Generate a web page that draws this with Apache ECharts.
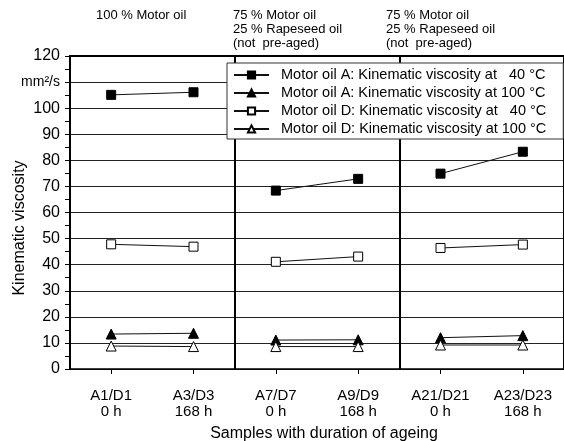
<!DOCTYPE html>
<html><head><meta charset="utf-8">
<script src="https://cdn.jsdelivr.net/npm/echarts@6/dist/echarts.min.js"></script>
<style>html,body{margin:0;padding:0;background:#fff}#c{width:564px;height:441px}</style>
</head><body><div id="c"></div>
<script>
const categories = ['A1/D1\n0 h', 'A3/D3\n168 h', 'A7/D7\n0 h', 'A9/D9\n168 h', 'A21/D21\n0 h', 'A23/D23\n168 h'];
const motorA40 = [105.1, 106.1, 68.4, 72.9, 74.9, 83.3];
const motorA100 = [13.4, 13.7, 11.1, 11.2, 12.0, 12.8];
const motorD40 = [47.8, 46.9, 41.1, 43.1, 46.4, 47.7];
const motorD100 = [8.8, 8.6, 8.6, 8.6, 9.2, 9.2];
const seriesNames = [
  'Motor oil A: Kinematic viscosity at \u200740 °C',
  'Motor oil A: Kinematic viscosity at 100 °C',
  'Motor oil D: Kinematic viscosity at \u200740 °C',
  'Motor oil D: Kinematic viscosity at 100 °C'
];
const groupTitles = ['100 % Motor oil', '75 % Motor oil\n25 % Rapeseed oil\n(not  pre-aged)', '75 % Motor oil\n25 % Rapeseed oil\n(not  pre-aged)'];
const yAxisTitle = 'Kinematic viscosity';
const xAxisTitle = 'Samples with duration of ageing';
const unitLabel = 'mm²/s';

const FONT = 'Liberation Sans, Arial, sans-serif';
const styles = [
  {symbol: 'rect', size: 9, fill: '#000'},
  {symbol: 'triangle', size: 10, fill: '#000'},
  {symbol: 'rect', size: 9, fill: '#fff'},
  {symbol: 'triangle', size: 10, fill: '#fff'}
];
const allData = [motorA40, motorA100, motorD40, motorD100];
const series = [];
allData.forEach((arr, si) => {
  for (let g = 0; g < 3; g++) {
    const d = arr.map((v, i) => (i === 2 * g || i === 2 * g + 1) ? v : '-');
    series.push({
      type: 'line', name: seriesNames[si], xAxisIndex: 0, yAxisIndex: 0,
      data: d, symbol: styles[si].symbol, symbolSize: styles[si].size,
      showAllSymbol: true, animation: false,
      lineStyle: {color: '#111', width: 1},
      itemStyle: {color: styles[si].fill, borderColor: '#000', borderWidth: 1, opacity: 1},
      z: 3
    });
  }
});

const chart = echarts.init(document.getElementById('c'), null, {renderer: 'canvas'});
chart.setOption({
  animation: false,
  backgroundColor: '#fff',
  textStyle: {fontFamily: FONT, color: '#000'},
  grid: {left: 70, top: 56, right: 0, bottom: 72, containLabel: false},
  legend: {
    orient: 'vertical', left: 227, top: 63,
    data: seriesNames,
    backgroundColor: '#fff', borderColor: '#333', borderWidth: 1,
    padding: [3, 17, 1, 6], itemGap: 0, itemWidth: 35, itemHeight: 9,
    textStyle: {fontFamily: FONT, fontSize: 14.5, lineHeight: 18, color: '#000', padding: [0, 0, 0, 7]},
    selectedMode: false, z: 10
  },
  xAxis: [{
    type: 'category', data: categories, boundaryGap: true,
    axisLine: {show: true, lineStyle: {color: '#000', width: 1.5}},
    axisTick: {show: true, alignWithLabel: true, length: 5, lineStyle: {color: '#000'}},
    axisLabel: {fontFamily: FONT, fontSize: 15, color: '#000', margin: 19, lineHeight: 16, interval: 0},
    splitLine: {show: false}
  }, {
    type: 'value', min: 0, max: 6, interval: 2, position: 'top',
    axisLine: {show: true, onZero: false, lineStyle: {color: '#000', width: 2}},
    axisTick: {show: false}, axisLabel: {show: false},
    splitLine: {show: true, lineStyle: {color: '#000', width: 2}}
  }],
  yAxis: {
    type: 'value', min: 0, max: 120, interval: 10,
    axisLine: {show: true, lineStyle: {color: '#000', width: 2}},
    axisTick: {show: true, length: 5, lineStyle: {color: '#000'}},
    minorTick: {show: true, splitNumber: 2, length: 5, lineStyle: {color: '#000'}},
    axisLabel: {
      fontFamily: FONT, fontSize: 16, color: '#000', margin: 10,
      formatter: v => v === 110 ? '{u|' + unitLabel + '}' : String(v),
      rich: {u: {fontFamily: FONT, fontSize: 14, color: '#000'}}
    },
    splitLine: {show: true, lineStyle: {color: '#222', width: 1}}
  },
  graphic: [
    {type: 'text', left: 96, top: 8, style: {text: groupTitles[0], font: '13px ' + FONT, fill: '#000', lineHeight: 14}},
    {type: 'text', left: 233, top: 8, style: {text: groupTitles[1], font: '13px ' + FONT, fill: '#000', lineHeight: 14}},
    {type: 'text', left: 386, top: 8, style: {text: groupTitles[2], font: '13px ' + FONT, fill: '#000', lineHeight: 14}},
    {type: 'text', x: 20, y: 228, rotation: Math.PI / 2,
     style: {text: yAxisTitle, font: '16px ' + FONT, fill: '#000', align: 'center', verticalAlign: 'middle'}},
    {type: 'text', x: 324, y: 434,
     style: {text: xAxisTitle, font: '16px ' + FONT, fill: '#000', align: 'center', verticalAlign: 'middle'}}
  ],
  series: series
});
</script></body></html>
